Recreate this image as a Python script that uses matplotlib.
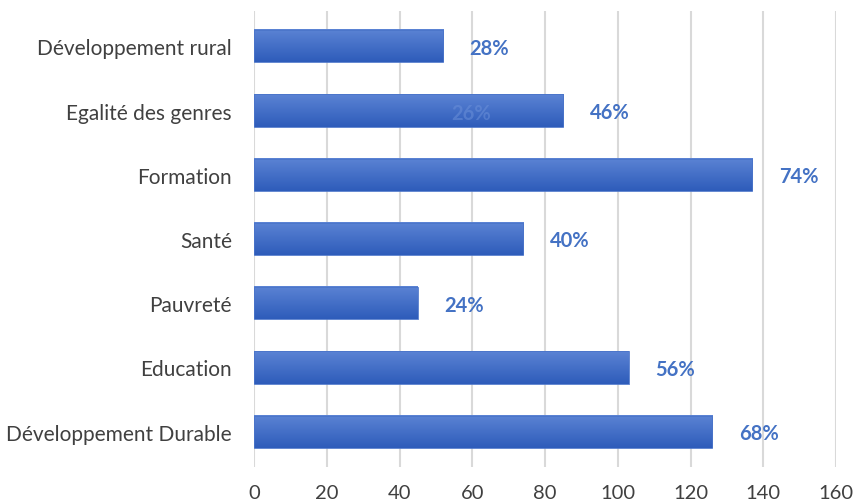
import numpy as np
import matplotlib
matplotlib.use("Agg")
import matplotlib.pyplot as plt
from matplotlib.colors import LinearSegmentedColormap

categories = ["Développement Durable", "Education", "Pauvreté", "Santé",
              "Formation", "Egalité des genres", "Développement rural"]
values = [126, 103, 45, 74, 137, 85, 52]
pct_labels = ["68%", "56%", "24%", "40%", "74%", "46%", "28%"]
xticks = [0, 20, 40, 60, 80, 100, 120, 140, 160]

plt.rcParams['font.family'] = ['Lato', 'DejaVu Sans']

fig = plt.figure(figsize=(8.59, 5.02), dpi=100)
ax = fig.add_axes([254 / 859, 1 - 468 / 502, (836 - 254) / 859, (468 - 12) / 502])

y = np.arange(len(categories))
bars = ax.barh(y, values, height=0.5, color="none", edgecolor="#4a74c9", linewidth=0.6, zorder=3)

# vertical gradient on each bar (lighter on top, darker at bottom)
cmap = LinearSegmentedColormap.from_list("bar", ["#2e5cba", "#5b83d4"])
grad = np.linspace(0, 1, 100).reshape(-1, 1)
for b in bars:
    x0, y0 = b.get_x(), b.get_y()
    w, h = b.get_width(), b.get_height()
    ax.imshow(grad, cmap=cmap, aspect="auto", origin="lower",
              extent=[x0, x0 + w, y0, y0 + h], zorder=2)

for i, (v, lab) in enumerate(zip(values, pct_labels)):
    ax.annotate(lab, (v, i), xytext=(19, -1), textcoords="offset points",
                ha="left", va="center", fontsize=14.5, fontweight="bold", color="#4472c4")

# faint leftover label seen behind the Egalité bar
ax.annotate("26%", (values[5], 5), xytext=(-66, -2), textcoords="offset points",
            ha="center", va="center", fontsize=14.5, fontweight="bold",
            color="#6a8fd8", alpha=0.55, zorder=4)

ax.set_xlim(0, 160)
ax.set_ylim(-0.55, len(categories) - 0.45)
ax.set_xticks(xticks)
ax.set_yticks(y)
ax.set_yticklabels(categories, fontsize=15, color="#404040")
ax.tick_params(axis="x", labelsize=14.5, colors="#404040", length=0, pad=12)
ax.tick_params(axis="y", length=0, pad=16)
ax.grid(axis="x", color="#d9d9d9", linewidth=1.5, zorder=0)
ax.set_axisbelow(True)
for s in ax.spines.values():
    s.set_visible(False)

fig.savefig("out.png", dpi=100)
